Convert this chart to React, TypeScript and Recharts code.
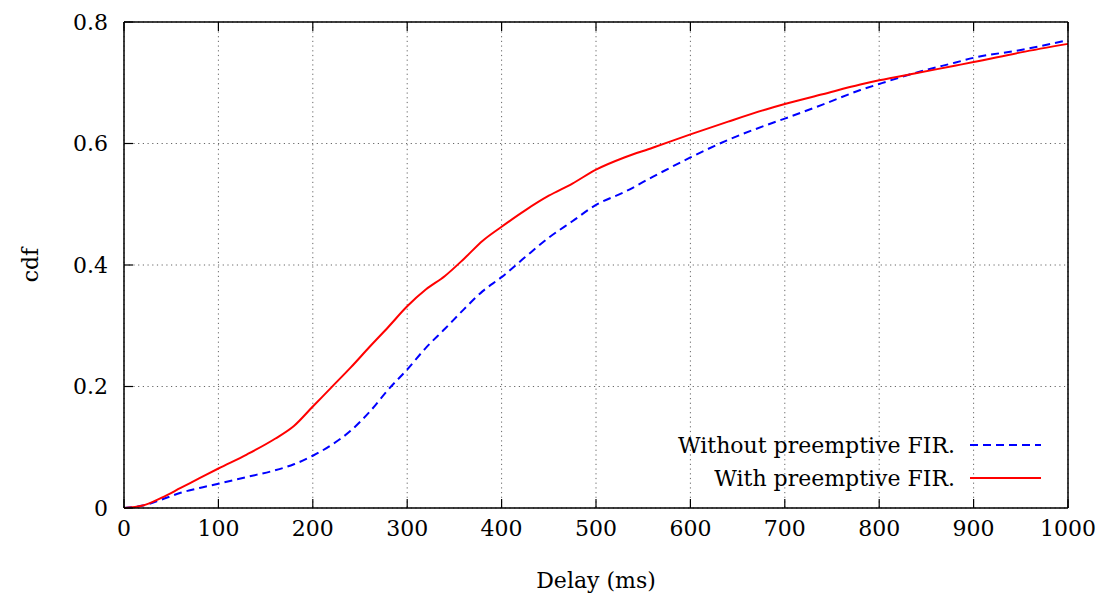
import React from "react";
import {
  LineChart,
  Line,
  XAxis,
  YAxis,
  CartesianGrid,
  Legend,
  Label,
} from "recharts";

const DELAY = [
  0, 20, 40, 60, 80, 100, 130, 160, 180, 200, 220, 240, 260, 280, 300, 320, 340,
  360, 380, 400, 425, 450, 475, 500, 530, 560, 600, 640, 680, 700, 740, 780, 800,
  840, 880, 900, 950, 1000,
];

const WITHOUT_FIR = [
  0, 0.004, 0.014, 0.025, 0.033, 0.04, 0.051, 0.062, 0.072, 0.086, 0.104, 0.127,
  0.158, 0.195, 0.228, 0.264, 0.295, 0.327, 0.357, 0.38, 0.413, 0.445, 0.472,
  0.499, 0.52, 0.545, 0.577, 0.606, 0.63, 0.641, 0.664, 0.688, 0.698, 0.717,
  0.733, 0.741, 0.754, 0.77,
];

const WITH_FIR = [
  0, 0.004, 0.017, 0.033, 0.049, 0.065, 0.088, 0.114, 0.135, 0.167, 0.199, 0.231,
  0.265, 0.298, 0.332, 0.36, 0.382, 0.41, 0.44, 0.463, 0.49, 0.514, 0.534, 0.557,
  0.577, 0.593, 0.615, 0.636, 0.656, 0.665, 0.681, 0.697, 0.704, 0.716, 0.728,
  0.734, 0.75, 0.764,
];

const X_TICKS = [0, 100, 200, 300, 400, 500, 600, 700, 800, 900, 1000];
const Y_TICKS = [0, 0.2, 0.4, 0.6, 0.8];

const SERIES_NAMES = ["Without preemptive FIR.", "With preemptive FIR."];

const data = DELAY.map((d, i) => ({
  delay: d,
  without: WITHOUT_FIR[i],
  with: WITH_FIR[i],
}));

const FONT = "DejaVu Serif, serif";
const FS = 22;
const TICK_LEN = 9;

const fmtY = (v: number) => (v === 0 ? "0" : v.toFixed(1));

const textStyle = { fontFamily: FONT, fontSize: FS, fill: "#000" };

const BottomTick = (props: any) => {
  const { x, y, payload } = props;
  const axisY = y - 12;
  return (
    <g>
      <line x1={x} x2={x} y1={axisY} y2={axisY - TICK_LEN} stroke="#000" strokeWidth={1.2} />
      <text x={x} y={y} dy="0.71em" textAnchor="middle" style={textStyle}>
        {payload.value}
      </text>
    </g>
  );
};

const LeftTick = (props: any) => {
  const { x, y, payload } = props;
  const axisX = x + 16;
  return (
    <g>
      <line x1={axisX} x2={axisX + TICK_LEN} y1={y} y2={y} stroke="#000" strokeWidth={1.2} />
      <text x={x} y={y} dy="0.355em" textAnchor="end" style={textStyle}>
        {fmtY(payload.value)}
      </text>
    </g>
  );
};

const TopTick = (props: any) => {
  const { x, y } = props;
  return <line x1={x} x2={x} y1={y} y2={y + TICK_LEN} stroke="#000" strokeWidth={1.2} />;
};

const RightTick = (props: any) => {
  const { x, y } = props;
  return <line x1={x} x2={x - TICK_LEN} y1={y} y2={y} stroke="#000" strokeWidth={1.2} />;
};

const XLabel = (props: any) => {
  const { viewBox } = props;
  return (
    <text
      x={viewBox.x + viewBox.width / 2}
      y={viewBox.y + 72}
      textAnchor="middle"
      dominantBaseline="central"
      style={textStyle}
    >
      Delay (ms)
    </text>
  );
};

const YLabel = (props: any) => {
  const { viewBox } = props;
  const cx = 22;
  const cy = viewBox.y + viewBox.height / 2;
  return (
    <text
      x={cx}
      y={cy}
      transform={`rotate(-90 ${cx} ${cy})`}
      textAnchor="middle"
      dominantBaseline="central"
      style={textStyle}
    >
      cdf
    </text>
  );
};

const LegendBox = () => (
  <svg width={500} height={90} style={{ overflow: "visible" }}>
    <text x={407} y={37} textAnchor="end" dominantBaseline="central" style={textStyle}>
      {SERIES_NAMES[0]}
    </text>
    <line x1={422} x2={493} y1={37} y2={37} stroke="#0000ff" strokeWidth={2} strokeDasharray="8 5" />
    <text x={407} y={70} textAnchor="end" dominantBaseline="central" style={textStyle}>
      {SERIES_NAMES[1]}
    </text>
    <line x1={422} x2={493} y1={70} y2={70} stroke="#ff0000" strokeWidth={2} />
  </svg>
);

export default function App() {
  return (
    <div style={{ width: 1100, height: 590, background: "#fff" }}>
      <LineChart
        width={1100}
        height={590}
        data={data}
        margin={{ top: 4, right: 20, bottom: 0, left: 0 }}
      >
        <CartesianGrid
          xAxisId="b"
          yAxisId="l"
          stroke="#666"
          strokeDasharray="1.2 3.5"
          strokeWidth={1}
          verticalValues={X_TICKS}
          horizontalValues={Y_TICKS}
        />
        <XAxis
          xAxisId="b"
          dataKey="delay"
          type="number"
          domain={[0, 1000]}
          ticks={X_TICKS}
          interval={0}
          height={90}
          tickSize={0}
          tickMargin={12}
          tickLine={false}
          axisLine={{ stroke: "#000", strokeWidth: 1.5 }}
          tick={<BottomTick />}
        >
          <Label content={<XLabel />} />
        </XAxis>
        <XAxis
          xAxisId="t"
          orientation="top"
          dataKey="delay"
          type="number"
          domain={[0, 1000]}
          ticks={X_TICKS}
          interval={0}
          height={10}
          tickSize={0}
          tickMargin={0}
          tickLine={false}
          axisLine={{ stroke: "#000", strokeWidth: 1.5 }}
          tick={<TopTick />}
        />
        <YAxis
          yAxisId="l"
          type="number"
          domain={[0, 0.8]}
          ticks={Y_TICKS}
          interval={0}
          width={116}
          tickSize={0}
          tickMargin={16}
          tickLine={false}
          axisLine={{ stroke: "#000", strokeWidth: 1.5 }}
          tick={<LeftTick />}
        >
          <Label content={<YLabel />} />
        </YAxis>
        <YAxis
          yAxisId="r"
          orientation="right"
          type="number"
          domain={[0, 0.8]}
          ticks={Y_TICKS}
          interval={0}
          width={20}
          tickSize={0}
          tickMargin={0}
          tickLine={false}
          axisLine={{ stroke: "#000", strokeWidth: 1.5 }}
          tick={<RightTick />}
        />
        <Legend
          layout="vertical"
          align="center"
          verticalAlign="middle"
          content={<LegendBox />}
          wrapperStyle={{ position: "absolute", left: 540, top: 400, width: 500, height: 90 }}
        />
        <Line
          xAxisId="b"
          yAxisId="l"
          type="monotone"
          dataKey="without"
          name={SERIES_NAMES[0]}
          stroke="#0000ff"
          strokeWidth={2}
          strokeDasharray="8 5"
          dot={false}
          isAnimationActive={false}
        />
        <Line
          xAxisId="b"
          yAxisId="l"
          type="monotone"
          dataKey="with"
          name={SERIES_NAMES[1]}
          stroke="#ff0000"
          strokeWidth={2}
          dot={false}
          isAnimationActive={false}
        />
      </LineChart>
    </div>
  );
}
